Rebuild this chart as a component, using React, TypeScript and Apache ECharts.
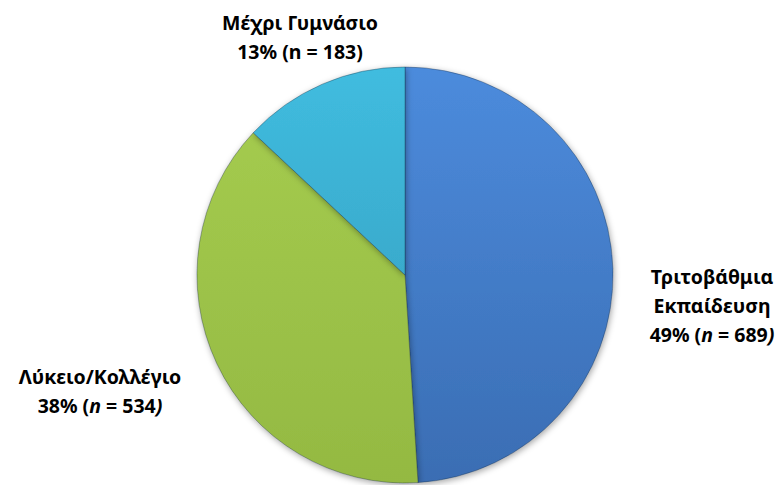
import React, { useEffect, useRef } from "react";
import * as echarts from "echarts";

const categories = ["Τριτοβάθμια\nΕκπαίδευση", "Λύκειο/Κολλέγιο", "Μέχρι Γυμνάσιο"];
const counts = [689, 534, 183];
const percents = [49, 38, 13];
const italicN = [true, true, false];

const topColors = ["#4c8bdc", "#a6cd50", "#40bcdf"];
const bottomColors = ["#3a6db3", "#94b942", "#3299b9"];
const labelPos = [
  { x: 712, y: 305 },
  { x: 100, y: 391 },
  { x: 300, y: 37 },
];
const FONT = "'Noto Sans', 'Open Sans', sans-serif";
const FS = 19.5;
const LH = 29;

export default function App() {
  const ref = useRef<HTMLDivElement>(null);
  useEffect(() => {
    const chart = echarts.init(ref.current!, null, { renderer: "svg" });
    const data = categories.map((name, i) => ({
      name,
      value: counts[i],
      itemStyle: {
        color: {
          type: "linear",
          global: true,
          x: 0,
          y: 70,
          x2: 0,
          y2: 483,
          colorStops: [
            { offset: 0, color: topColors[i] },
            { offset: 1, color: bottomColors[i] },
          ],
        },
      },
    }));
    chart.setOption({
      animation: false,
      backgroundColor: "#ffffff",
      series: [
        {
          type: "pie",
          center: [405, 275],
          radius: 208,
          startAngle: 90,
          clockwise: true,
          data,
          itemStyle: {
            borderColor: "rgba(20,40,60,0.35)",
            borderWidth: 1,
            shadowBlur: 6,
            shadowOffsetX: 1,
            shadowOffsetY: 2,
            shadowColor: "rgba(0,0,0,0.35)",
          },
          label: {
            show: true,
            position: "outside",
            overflow: "none",
            alignTo: "none",
            fontFamily: FONT,
            fontWeight: "bold",
            fontSize: FS,
            lineHeight: LH,
            color: "#000",
            align: "center",
            formatter: (p: any) => {
              const i = p.dataIndex;
              const name = categories[i]
                .split("\n")
                .map((s) => `{b|${s}}`)
                .join("\n");
              const line = italicN[i]
                ? `{b|${percents[i]}% (}{i|n}{b| = ${counts[i]}}{i|)}`
                : `{b|${percents[i]}% (n = ${counts[i]})}`;
              return `${name}\n${line}`;
            },
            rich: {
              b: {
                fontFamily: FONT,
                fontWeight: "bold",
                fontSize: FS,
                lineHeight: LH,
                color: "#000",
              },
              i: {
                fontFamily: FONT,
                fontWeight: "bold",
                fontStyle: "italic",
                fontSize: FS,
                lineHeight: LH,
                color: "#000",
              },
            },
          },
          labelLine: { show: false },
          labelLayout: (params: any) => {
            const pos = labelPos[params.dataIndex];
            return { x: pos.x, y: pos.y, align: "center", verticalAlign: "middle" };
          },
        },
      ],
    });
    return () => chart.dispose();
  }, []);
  return (
    <div
      ref={ref}
      style={{ position: "absolute", left: 0, top: 0, width: 784, height: 485 }}
    />
  );
}
